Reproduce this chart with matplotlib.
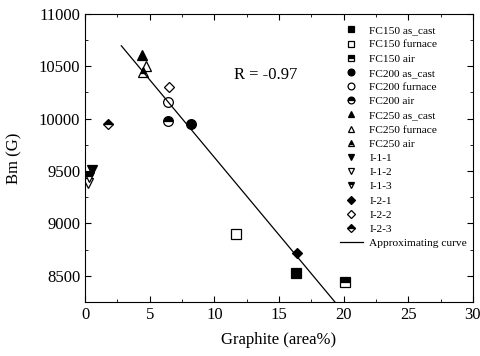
import matplotlib
matplotlib.use("Agg")
import matplotlib.pyplot as plt
from matplotlib.ticker import MultipleLocator

plt.rcParams['font.family'] = ['Liberation Serif', 'DejaVu Serif']

# samples: label, graphite (area%), Bm (G)
labels = ['FC150 as_cast', 'FC150 furnace', 'FC150 air',
          'FC200 as_cast', 'FC200 furnace', 'FC200 air',
          'FC250 as_cast', 'FC250 furnace', 'FC250 air',
          'I-1-1', 'I-1-2', 'I-1-3',
          'I-2-1', 'I-2-2', 'I-2-3']
graphite = [16.3, 11.7, 20.1,
            8.2, 6.4, 6.4,
            4.4, 4.7, 4.5,
            0.5, 0.2, 0.3,
            16.4, 6.5, 1.8]
bm = [8530, 8900, 8440,
      9945, 10160, 9980,
      10610, 10505, 10445,
      9510, 9385, 9440,
      8720, 10300, 9950]

# approximating line: Bm = a + b * graphite
fit_a = 11110
fit_b = -148
fit_x = [2.8, 20.0]

markers = ['s'] * 3 + ['o'] * 3 + ['^'] * 3 + ['v'] * 3 + ['D'] * 3
fills = ['full', 'none', 'top'] * 5

fig = plt.figure(figsize=(4.81, 3.56), dpi=100)
ax = fig.add_axes([0.177, 0.152, 0.806, 0.809])

for lab, x, y, m, f in zip(labels, graphite, bm, markers, fills):
    ms = 5.5 if m == 'D' else 7
    if f == 'none':
        ax.plot(x, y, linestyle='none', marker=m, markersize=ms,
                markerfacecolor='white', markeredgecolor='black',
                markeredgewidth=0.9, label=lab)
    else:
        ax.plot(x, y, linestyle='none', marker=m, markersize=ms,
                fillstyle=f, color='black', markerfacecoloralt='white',
                markeredgewidth=0.9, label=lab)

ax.plot(fit_x, [fit_a + fit_b * x for x in fit_x], color='black',
        linewidth=0.9, label='Approximating curve')

ax.text(11.5, 10415, 'R = -0.97', fontsize=12, va='center')

ax.set_xlim(0, 30)
ax.set_ylim(8250, 11000)
ax.xaxis.set_major_locator(MultipleLocator(5))
ax.xaxis.set_minor_locator(MultipleLocator(2.5))
ax.yaxis.set_major_locator(MultipleLocator(500))
ax.yaxis.set_minor_locator(MultipleLocator(250))
ax.tick_params(which='both', direction='in', top=True, right=True,
               labelsize=12)
ax.tick_params(which='major', length=4)
ax.tick_params(which='minor', length=2)
ax.set_xlabel('Graphite (area%)', fontsize=12, labelpad=7)
ax.set_ylabel('Bm (G)', fontsize=12, labelpad=12)

ax.legend(loc='upper right', frameon=False, fontsize=8.2, labelspacing=0.37,
          handlelength=2.0, handletextpad=0.6, markerscale=0.7,
          borderaxespad=0.1, bbox_to_anchor=(1.0, 0.98))

fig.savefig('out.png', dpi=100)
